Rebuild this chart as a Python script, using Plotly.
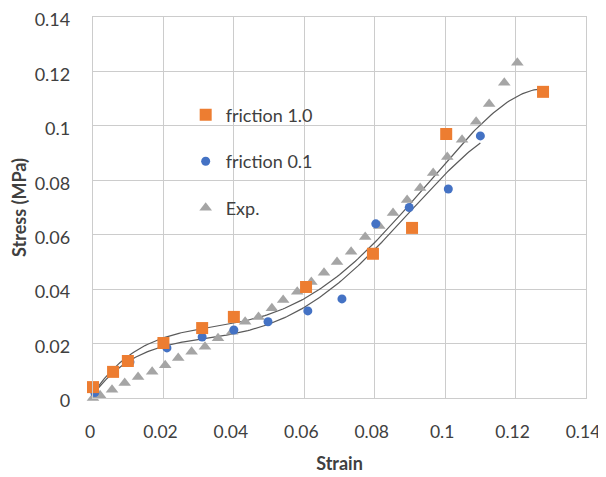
import numpy as np
import plotly.graph_objects as go

# friction 1.0 (orange squares)
f10_x = [0.0, 0.0057, 0.0099, 0.020, 0.031, 0.040, 0.0605, 0.0795, 0.0906, 0.1003, 0.1278]
f10_y = [0.004, 0.0096, 0.0136, 0.0202, 0.0257, 0.0298, 0.0408, 0.053, 0.0625, 0.097, 0.1125]

# friction 0.1 (blue circles)
f01_x = [0.0005, 0.0055, 0.0105, 0.021, 0.031, 0.040, 0.0497, 0.061, 0.0707, 0.0803, 0.0898, 0.1009, 0.110]
f01_y = [0.002, 0.0098, 0.0132, 0.0184, 0.0224, 0.025, 0.028, 0.032, 0.0364, 0.064, 0.070, 0.0768, 0.0963]

# Exp. (gray triangles)
exp_x = [0.0, 0.002, 0.0054, 0.009, 0.0128, 0.0168, 0.0205, 0.0242, 0.028, 0.0318, 0.0355, 0.0395,
         0.0432, 0.047, 0.0508, 0.054, 0.058, 0.062, 0.0656, 0.0693, 0.0733, 0.0773, 0.0813, 0.0852,
         0.0892, 0.0929, 0.0966, 0.1006, 0.1048, 0.1088, 0.1125, 0.1168, 0.1205]
exp_y = [0.0, 0.001, 0.003, 0.0055, 0.0077, 0.0096, 0.012, 0.0147, 0.017, 0.0188, 0.022, 0.0243,
         0.028, 0.0298, 0.033, 0.036, 0.039, 0.0426, 0.046, 0.050, 0.0537, 0.0592, 0.0632, 0.068,
         0.0728, 0.0772, 0.0827, 0.0886, 0.0949, 0.1015, 0.108, 0.1158, 0.1232]

tick_vals = [0, 0.02, 0.04, 0.06, 0.08, 0.1, 0.12, 0.14]
tick_text = ["0", "0.02", "0.04", "0.06", "0.08", "0.1", "0.12", "0.14"]

FONT = "Lato, 'Open Sans', sans-serif"
TXT = "#404040"
GRID = "#cccccc"


def trend(xs, ys, deg=4):
    c = np.polyfit(xs, ys, deg)
    xx = np.linspace(min(xs), max(xs), 200)
    return xx, np.polyval(c, xx)


fig = go.Figure()

tx, ty = trend(f10_x, f10_y)
fig.add_trace(go.Scatter(x=tx, y=ty, mode="lines", line=dict(color="#5a5a5a", width=1.2),
                         showlegend=False, hoverinfo="skip"))
tx, ty = trend(f01_x, f01_y)
fig.add_trace(go.Scatter(x=tx, y=ty, mode="lines", line=dict(color="#5a5a5a", width=1.2),
                         showlegend=False, hoverinfo="skip"))

fig.add_trace(go.Scatter(x=exp_x, y=exp_y, mode="markers", name="Exp.",
                         marker=dict(symbol="triangle-up", size=11, color="#A5A5A5"),
                         cliponaxis=False, legendgroup="c", legendrank=3))
fig.add_trace(go.Scatter(x=f01_x, y=f01_y, mode="markers", name="friction 0.1",
                         marker=dict(symbol="circle", size=9, color="#4472C4"),
                         cliponaxis=False, legendgroup="b", legendrank=2))
fig.add_trace(go.Scatter(x=f10_x, y=f10_y, mode="markers", name="friction 1.0",
                         marker=dict(symbol="square", size=12, color="#ED7D31"),
                         cliponaxis=False, legendgroup="a", legendrank=1))

fig.update_layout(
    width=598, height=469,
    margin=dict(l=85, r=20, t=9, b=79),
    paper_bgcolor="white", plot_bgcolor="white",
    font=dict(family=FONT, size=18, color=TXT),
    showlegend=True,
    legend=dict(x=0.188, y=0.791, xanchor="left", yanchor="top",
                bgcolor="rgba(0,0,0,0)", font=dict(size=18, color=TXT),
                tracegroupgap=20, traceorder="grouped"),
    xaxis=dict(range=[0, 0.14], tickvals=tick_vals, ticktext=tick_text,
               showgrid=True, gridcolor=GRID, gridwidth=1.3,
               showline=True, linecolor=GRID, linewidth=1.3, mirror=True,
               zeroline=False, ticks="outside", ticklen=18, tickcolor="rgba(0,0,0,0)",
               automargin=False, ticklabeloverflow="allow", ticklabelshift=-3,
               tickfont=dict(size=17.5),
               title=dict(text="<b>Strain</b>", standoff=16, font=dict(size=18, color=TXT))),
    yaxis=dict(range=[0, 0.14], tickvals=tick_vals, ticktext=tick_text,
               showgrid=True, gridcolor=GRID, gridwidth=1.3,
               showline=True, linecolor=GRID, linewidth=1.3, mirror=True,
               zeroline=False, ticks="outside", ticklen=18, tickcolor="rgba(0,0,0,0)",
               automargin=False, ticklabeloverflow="allow", ticklabelshift=3,
               title=dict(text="<b>Stress (MPa)</b>", standoff=6, font=dict(size=18, color=TXT))),
)

fig.write_html("out.html")
